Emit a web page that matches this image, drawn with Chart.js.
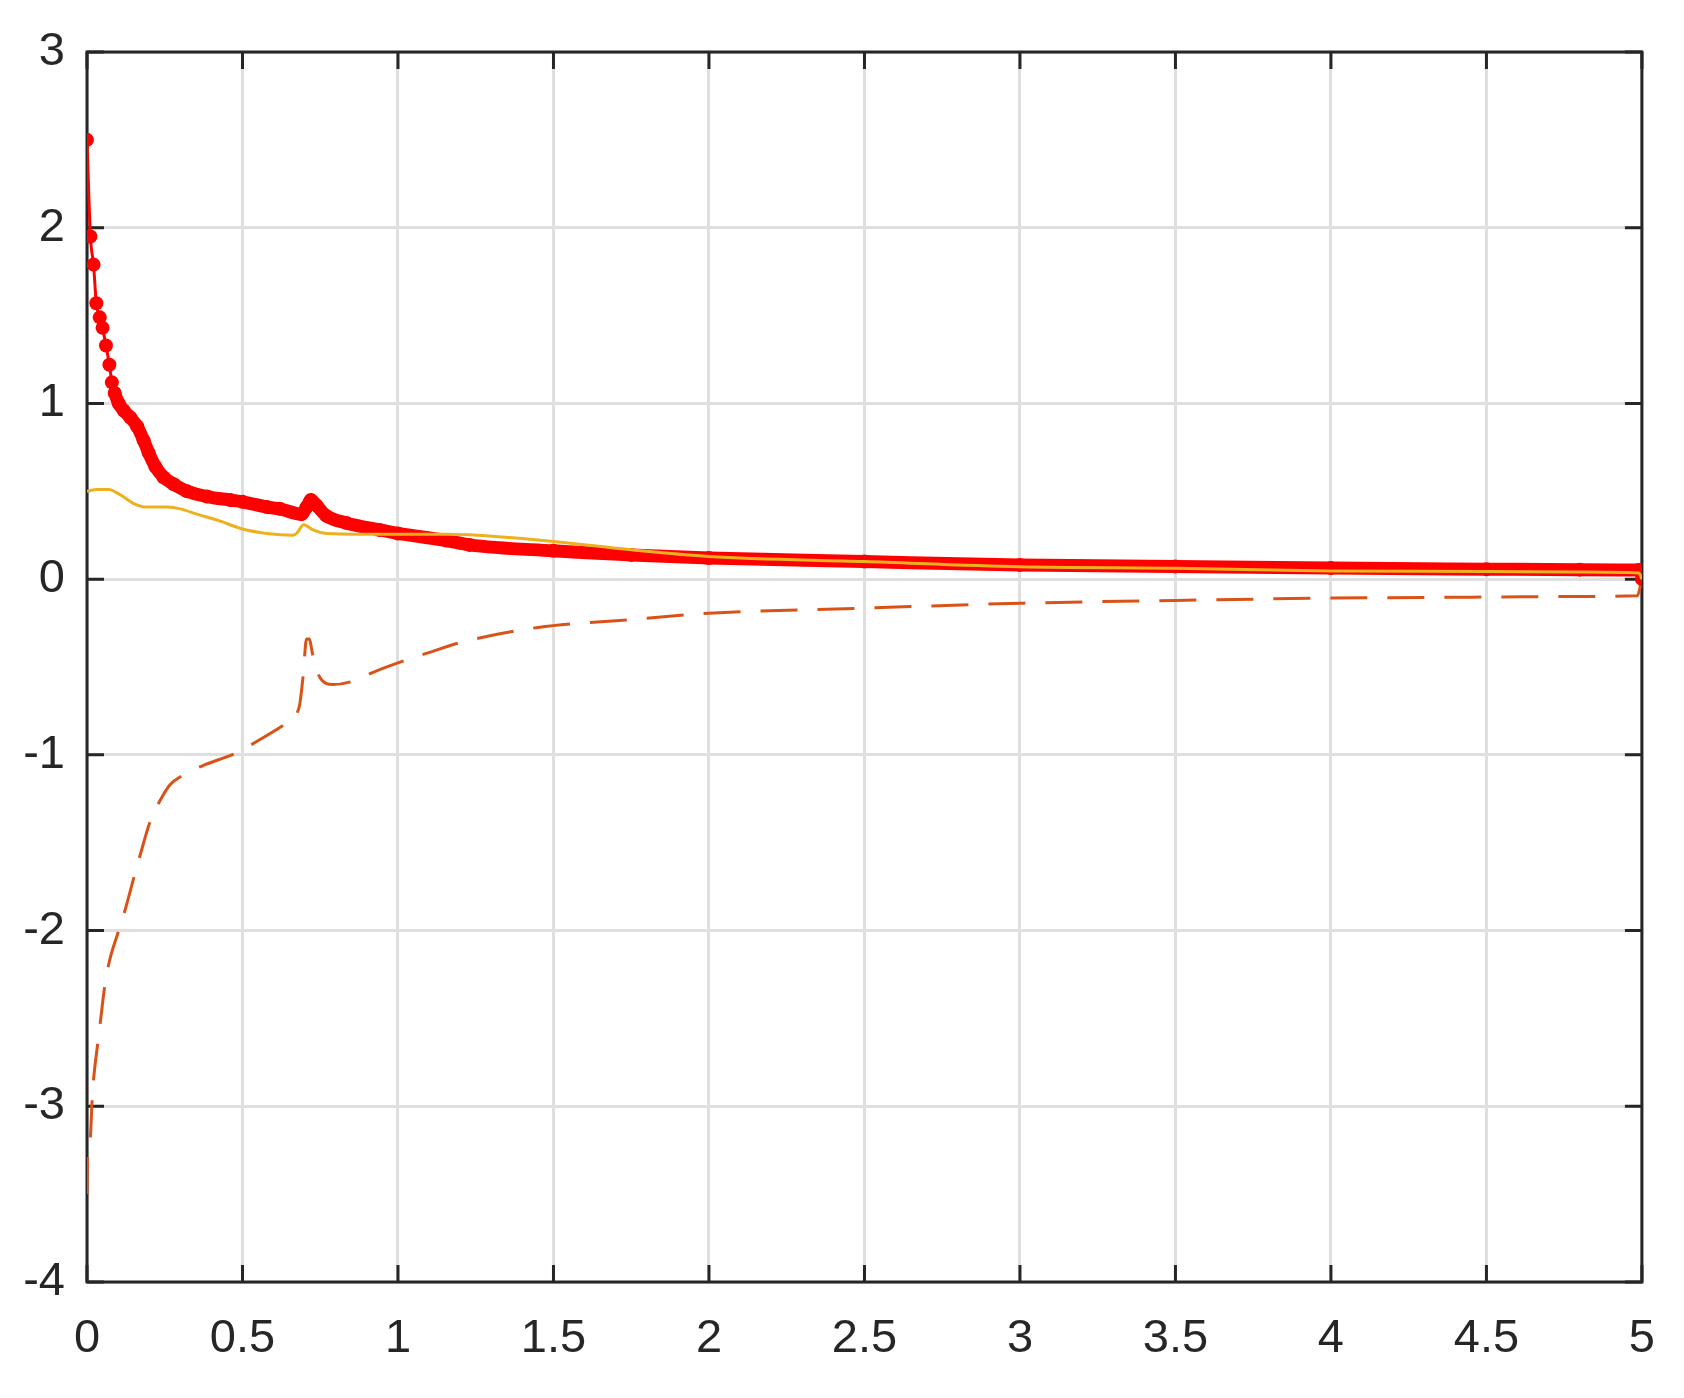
<!DOCTYPE html>
<html>
<head>
<meta charset="utf-8">
<script src="https://cdn.jsdelivr.net/npm/chart.js@4.4.1/dist/chart.umd.min.js"></script>
<style>
  html, body { margin: 0; padding: 0; background: #ffffff; }
  #wrap { width: 1684px; height: 1398px; }
</style>
</head>
<body>
<div id="wrap"><canvas id="chart" width="1684" height="1398"></canvas></div>
<script>
// ============================
// data
// ============================

const xTicks = [0, 0.5, 1, 1.5, 2, 2.5, 3, 3.5, 4, 4.5, 5];
const xTickLabels = ["0", "0.5", "1", "1.5", "2", "2.5", "3", "3.5", "4", "4.5", "5"];
const yTicks = [-4, -3, -2, -1, 0, 1, 2, 3];
const yTickLabels = ["-4", "-3", "-2", "-1", "0", "1", "2", "3"];

// red line with markers
const redX = [0, 0.011, 0.021, 0.030, 0.041, 0.050, 0.061, 0.072, 0.080, 0.089,
  0.102, 0.118, 0.139, 0.161, 0.182, 0.198, 0.220, 0.246, 0.279, 0.322,
  0.386, 0.461, 0.5, 0.579, 0.62, 0.69, 0.706, 0.72, 0.738, 0.77,
  0.834, 0.941, 1.0, 1.155, 1.23, 1.5, 1.75, 2.0, 2.5, 3.0,
  3.5, 4.0, 4.5, 4.8, 4.99, 5.0];
const redY = [2.5, 1.95, 1.79, 1.57, 1.49, 1.43, 1.33, 1.22, 1.12, 1.06,
  1.0, 0.96, 0.92, 0.87, 0.79, 0.72, 0.64, 0.58, 0.54, 0.50,
  0.47, 0.45, 0.44, 0.41, 0.40, 0.37, 0.41, 0.45, 0.42, 0.36,
  0.32, 0.28, 0.26, 0.22, 0.195, 0.161, 0.138, 0.12, 0.10, 0.081,
  0.072, 0.063, 0.057, 0.054, 0.052, 0.0];

// yellow solid line
const yellowX = [0, 0.032, 0.07, 0.107, 0.15, 0.193, 0.257, 0.30, 0.353, 0.428,
  0.5, 0.578, 0.663, 0.674, 0.697, 0.727, 0.77, 0.888, 1.048, 1.155,
  1.23, 1.5, 1.75, 2.0, 2.5, 3.0, 3.5, 4.0, 4.5, 4.8,
  4.99, 5.0];
const yellowY = [0.50, 0.51, 0.51, 0.48, 0.43, 0.41, 0.41, 0.40, 0.37, 0.33,
  0.285, 0.26, 0.25, 0.26, 0.31, 0.28, 0.26, 0.256, 0.256, 0.256,
  0.252, 0.214, 0.167, 0.129, 0.10, 0.07, 0.062, 0.047, 0.044, 0.04,
  0.035, 0.0];

// orange dashed line
const dashX = [0, 0.002, 0.011, 0.016, 0.021, 0.034, 0.043, 0.056, 0.07, 0.10,
  0.123, 0.152, 0.171, 0.203, 0.235, 0.267, 0.305, 0.374, 0.478, 0.540,
  0.633, 0.682, 0.695, 0.706, 0.714, 0.727, 0.749, 0.791, 0.856, 0.92,
  1.027, 1.096, 1.203, 1.45, 1.75, 2.0, 2.5, 3.0, 3.5, 4.0,
  4.5, 4.8, 4.985, 5.0];
const dashY = [-3.50, -3.29, -3.17, -2.98, -2.85, -2.65, -2.52, -2.33, -2.19, -2.01,
  -1.88, -1.69, -1.57, -1.38, -1.26, -1.17, -1.12, -1.06, -0.99, -0.93,
  -0.83, -0.73, -0.55, -0.34, -0.34, -0.44, -0.56, -0.60, -0.58, -0.53,
  -0.46, -0.42, -0.36, -0.275, -0.23, -0.194, -0.165, -0.137, -0.121, -0.108,
  -0.102, -0.099, -0.095, 0.0];

function toPoints(xs, ys) {
  return xs.map((x, i) => ({ x: x, y: ys[i] }));
}

const AXIS_COLOR = "#262626";
const TICK_FONT = { family: "'Liberation Sans', Arial, sans-serif", size: 47 };


// ============================
// box + inward ticks (matlab style)
// ============================

const boxPlugin = {
  id: "boxTicks",
  beforeDatasetsDraw(chart) {
    const ctx = chart.ctx;
    const a = chart.chartArea;
    const xs = chart.scales.x;
    const ys = chart.scales.y;
    const len = 17;

    ctx.save();
    ctx.strokeStyle = AXIS_COLOR;
    ctx.lineWidth = 3;
    ctx.lineCap = "butt";

    ctx.beginPath();
    xTicks.forEach(v => {
      const px = xs.getPixelForValue(v);
      ctx.moveTo(px, a.bottom); ctx.lineTo(px, a.bottom - len);
      ctx.moveTo(px, a.top); ctx.lineTo(px, a.top + len);
    });
    yTicks.forEach(v => {
      const py = ys.getPixelForValue(v);
      ctx.moveTo(a.left, py); ctx.lineTo(a.left + len, py);
      ctx.moveTo(a.right, py); ctx.lineTo(a.right - len, py);
    });
    ctx.stroke();

    ctx.strokeRect(a.left, a.top, a.right - a.left, a.bottom - a.top);
    ctx.restore();
  }
};


// ============================
// chart
// ============================

new Chart(document.getElementById("chart"), {
  type: "line",
  data: {
    datasets: [
      {
        data: toPoints(yellowX, yellowY),
        borderColor: "#EDB120",
        borderWidth: 3,
        pointRadius: 0,
        cubicInterpolationMode: "monotone"
      },
      {
        data: toPoints(redX, redY),
        borderColor: "#ff0000",
        backgroundColor: "#ff0000",
        borderWidth: 3,
        pointRadius: 7,
        pointBorderWidth: 0,
        borderCapStyle: "round",
        borderJoinStyle: "round",
        cubicInterpolationMode: "monotone",
        segment: {
          borderWidth: c => (c.p0.parsed.x >= 0.089 && c.p1.parsed.x < 5 ? 13 : 3)
        }
      },
      {
        data: toPoints(dashX, dashY),
        borderColor: "#D95319",
        borderWidth: 3,
        borderDash: [37, 20],
        pointRadius: 0,
        cubicInterpolationMode: "monotone"
      }
    ]
  },
  options: {
    responsive: false,
    animation: false,
    layout: { padding: { left: 0, top: 52, right: 41, bottom: 0 } },
    plugins: {
      legend: { display: false },
      tooltip: { enabled: false }
    },
    scales: {
      x: {
        type: "linear",
        min: 0,
        max: 5,
        afterFit: s => { s.height = 116; },
        afterBuildTicks: s => { s.ticks = xTicks.map(v => ({ value: v })); },
        grid: { color: "#dfdfdf", lineWidth: 3, drawTicks: false },
        border: { display: false },
        ticks: {
          color: AXIS_COLOR, font: TICK_FONT, padding: 29, maxRotation: 0,
          callback: (v, i) => xTickLabels[i]
        }
      },
      y: {
        type: "linear",
        min: -4,
        max: 3,
        afterFit: s => { s.width = 87; },
        afterBuildTicks: s => { s.ticks = yTicks.map(v => ({ value: v })); },
        grid: { color: "#dfdfdf", lineWidth: 3, drawTicks: false },
        border: { display: false },
        ticks: {
          color: AXIS_COLOR, font: TICK_FONT, padding: 22,
          callback: (v, i) => yTickLabels[i]
        }
      }
    }
  },
  plugins: [boxPlugin]
});
</script>
</body>
</html>
